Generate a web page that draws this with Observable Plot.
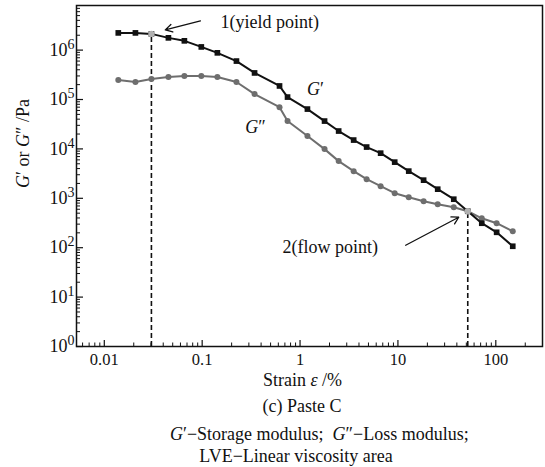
<!DOCTYPE html>
<html><head><meta charset="utf-8">
<script src="https://cdn.jsdelivr.net/npm/d3@7"></script>
<script src="https://cdn.jsdelivr.net/npm/@observablehq/plot@0.6"></script>
<style>
body{margin:0;background:#fff;font-family:"Liberation Serif","Times New Roman",serif;}
#wrap{position:relative;width:545px;height:467px;}
#wrap svg, #wrap svg text{font-family:"Liberation Serif","Times New Roman",serif !important;}
.cap{position:absolute;transform:translate(-50%,-50%);white-space:nowrap;font-size:18px;color:#111;}
.capl{position:absolute;transform:translate(0,-50%);white-space:nowrap;font-size:18px;color:#111;}
</style></head>
<body><div id="wrap"></div>
<script>
// strain (%)
const strain = [0.0139,0.0208,0.0303,0.0452,0.0658,0.098,0.143,0.224,0.343,0.617,0.745,1.19,1.78,2.48,3.53,4.79,6.66,9.27,12.9,18.3,25.5,37.2,51.7,71.9,102,149];
// storage modulus G' (Pa)
const gStorage = [2.23e6,2.23e6,2.13e6,1.77e6,1.54e6,1.16e6,8.8e5,6.0e5,3.45e5,1.88e5,1.12e5,6.4e4,3.66e4,2.3e4,1.51e4,1.09e4,8.2e3,5.4e3,3.55e3,2.33e3,1.53e3,959,547,313,205,107];
// loss modulus G'' (Pa)
const gLoss = [2.49e5,2.26e5,2.6e5,2.86e5,3.0e5,3.0e5,2.86e5,2.26e5,1.29e5,7.0e4,3.66e4,1.82e4,9.9e3,5.66e3,3.55e3,2.44e3,1.76e3,1.27e3,1.05e3,873,758,659,547,394,313,215];
// special points: yield point (index 2) and flow point (index 22)
const markerIdx = [2, 22];
const xTicks = [0.01,0.1,1,10,100];
const yTicks = [1,10,100,1e3,1e4,1e5,1e6];
// annotations
const annText = ["1(yield point)", "2(flow point)"];
const annX = [0.154, 0.662];
const annY = [3.73e6, 102];
const arrX1 = [0.096, 12], arrY1 = [3.9e6, 112], arrX2 = [0.042, 41.8], arrY2 = [2.57e6, 414];
const curveLab = ["G′", "G″"], curveLabX = [1.44, 0.351], curveLabY = [1.63e5, 2.77e4];

const dataS = strain.map((x,i)=>({x, y:gStorage[i]}));
const dataL = strain.map((x,i)=>({x, y:gLoss[i]}));
const marks = markerIdx.map(i=>({x:strain[i], y:gStorage[i]}));
const xMinor=[], yMinor=[];
for (const d of [0.001,0.01,0.1,1,10,100]) for (let k=2;k<10;k++){const v=d*k; if(v>0.0052&&v<300) xMinor.push(v);}
for (const d of yTicks) for (let k=2;k<10;k++){const v=d*k; if(v<8e6) yMinor.push(v);}
const ann = annText.map((t,i)=>({t,x:annX[i],y:annY[i]}));
const arr = arrX1.map((_,i)=>({x1:arrX1[i],y1:arrY1[i],x2:arrX2[i],y2:arrY2[i]}));
const lab = curveLab.map((t,i)=>({t,x:curveLabX[i],y:curveLabY[i]}));
const FF = "'Liberation Serif', 'Times New Roman', serif";

const PW = 545-76-3, PH = 346-5;
const chart = Plot.plot({
  width:545, height:395, marginTop:5, marginBottom:49, marginLeft:76, marginRight:3,
  style:`font-family:${FF};font-size:16px;background:white;color:#111;overflow:visible;`,
  x:{type:"log", domain:[0.0052,300]},
  y:{type:"log", domain:[1,8e6]},
  marks:[
    Plot.tickY(yTicks,{y:d=>d, insetRight:PW-7, stroke:"#111", strokeWidth:1.2}),
    Plot.tickY(yMinor,{y:d=>d, insetRight:PW-4, stroke:"#111"}),
    Plot.tickX(xTicks,{x:d=>d, insetTop:PH-6, stroke:"#111", strokeWidth:1.2}),
    Plot.tickX(xMinor,{x:d=>d, insetTop:PH-3.5, stroke:"#111"}),
    Plot.axisY({ticks:yTicks, tickSize:0, tickPadding:2, fontSize:18, fontFamily:FF, tickFormat:d=>"10^"+Math.round(Math.log10(d)), label:null}),
    Plot.axisX({ticks:xTicks, tickSize:0, tickPadding:7, fontSize:16.5, fontFamily:FF, tickFormat:d=>String(d), label:null}),
    Plot.ruleX(marks,{x:"x", y1:1, y2:"y", stroke:"#111", strokeWidth:1.6, strokeDasharray:"5,3"}),
    Plot.line(dataL,{x:"x", y:"y", stroke:"#6e6e6e", strokeWidth:2}),
    Plot.dot(dataL,{x:"x", y:"y", fill:"#6e6e6e", r:3}),
    Plot.line(dataS,{x:"x", y:"y", stroke:"#111", strokeWidth:2}),
    Plot.dot(dataS,{x:"x", y:"y", fill:"#111", symbol:"square", r:3.2}),
    Plot.dot(marks,{x:"x", y:"y", fill:"#b0b0b0", r:3.2}),
    Plot.arrow(arr,{x1:"x1",y1:"y1",x2:"x2",y2:"y2", stroke:"#111", strokeWidth:1.3, headLength:9}),
    Plot.text(ann,{x:"x", y:"y", text:"t", textAnchor:"start", fontSize:18, fontFamily:FF, fill:"#111"}),
    Plot.text(lab,{x:"x", y:"y", text:"t", fontSize:18, fontFamily:FF, fill:"#111"}),
    Plot.text(["G′ or G″ /Pa"],{frameAnchor:"left", dx:-53, dy:12, rotate:-90, fontSize:18, fontFamily:FF, fill:"#111"}),
    Plot.text(["Strain ε /%"],{frameAnchor:"bottom", dx:-7, dy:39, fontSize:18, fontFamily:FF, fill:"#111"}),
    Plot.frame({stroke:"#111", strokeWidth:1.5})
  ]
});
document.getElementById("wrap").appendChild(chart);
// rich text post-processing
d3.select(chart).selectAll("text").each(function(){
  const s = this.textContent;
  const m = /^10\^(\d)$/.exec(s);
  if (m) { this.innerHTML = `10<tspan dy="-7" font-size="14">${m[1]}</tspan>`; return; }
  if (s === "G′") this.innerHTML = `<tspan font-style="italic">G</tspan>′`;
  else if (s === "G″") this.innerHTML = `<tspan font-style="italic">G</tspan>″`;
  else if (s === "G′ or G″ /Pa") this.innerHTML = `<tspan font-style="italic">G</tspan>′ or <tspan font-style="italic">G</tspan>″ /Pa`;
  else if (s === "Strain ε /%") this.innerHTML = `Strain <tspan font-style="italic">ε</tspan> /%`;
});
const caps = [
  {h:"(c) Paste C", x:302, y:406, c:"cap"},
  {h:"<i>G</i>′−Storage modulus;&nbsp; <i>G</i>″−Loss modulus;", x:170, y:434, c:"capl"},
  {h:"LVE−Linear viscosity area", x:296, y:456, c:"cap"}
];
for (const c of caps){const d=document.createElement("div");d.className=c.c;d.style.left=c.x+"px";d.style.top=c.y+"px";d.innerHTML=c.h;document.getElementById("wrap").appendChild(d);}
</script></body></html>
